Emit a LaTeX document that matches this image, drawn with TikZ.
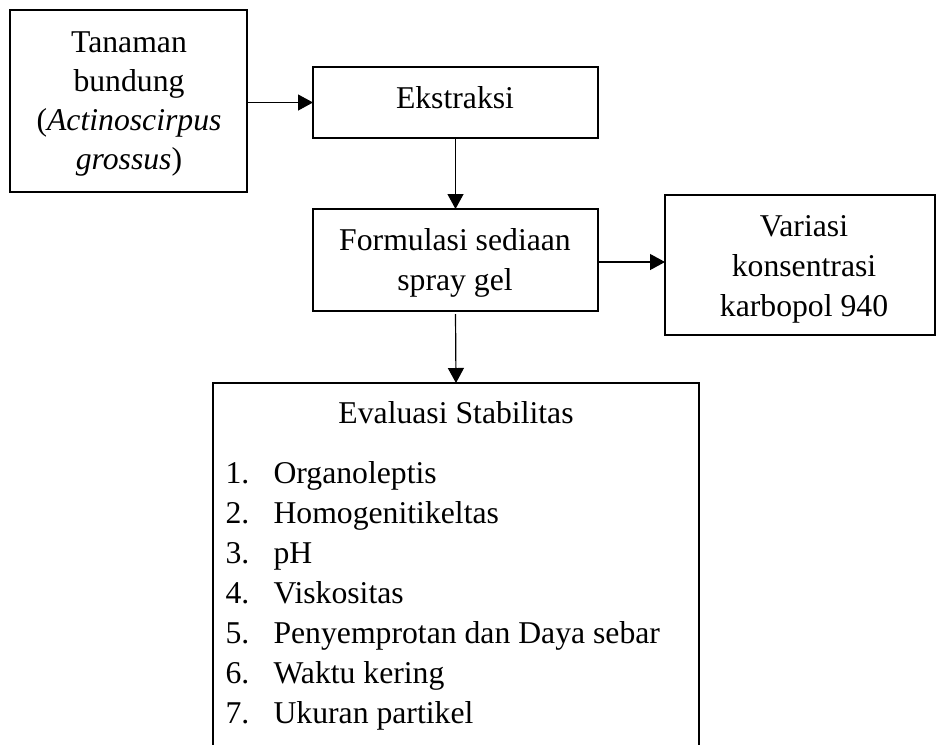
\documentclass[tikz,border=0pt]{standalone}
\usepackage{fontspec}
\setmainfont{Liberation Serif}
\usetikzlibrary{arrows.meta}
\newcommand\pxu{0.3785pt}
\begin{document}
\begin{tikzpicture}[x=0.3785pt,y=-0.3785pt,
  box/.style={draw=black,line width=2.6*\pxu,inner sep=0pt,outer sep=0pt},
  txt/.style={anchor=base,inner sep=0pt,font=\fontsize{12}{15}\selectfont},
  ltxt/.style={anchor=base west,inner sep=0pt,font=\fontsize{12}{15}\selectfont},
  conn/.style={line width=1.2*\pxu,-{Triangle[length=15*\pxu,width=16*\pxu]}}]
\useasboundingbox (0,0) rectangle (937,744);
\clip (0,0) rectangle (937,744);
% boxes
\node[box,minimum width=237*\pxu,minimum height=182*\pxu] (plant) at (128.5,101) {};
\node[box,minimum width=285*\pxu,minimum height=71*\pxu] (ekstr) at (455.5,102.5) {};
\node[box,minimum width=285*\pxu,minimum height=102*\pxu] (form) at (455.5,260) {};
\node[box,minimum width=270*\pxu,minimum height=140*\pxu] (var) at (800,265) {};
\node[box,minimum width=486*\pxu,minimum height=417*\pxu] (eval) at (456,591.5) {};
% texts
\node[txt] (p1) at (129,52) {Tanaman};
\node[txt] (p2) at (129,91) {bundung};
\node[txt] (p3) at (129,130) {(\textit{Actinoscirpus}};
\node[txt] (p4) at (129,169) {\textit{grossus})};
\node[txt] (e1) at (455,108) {Ekstraksi};
\node[txt] (f1) at (455,250) {Formulasi sediaan};
\node[txt] (f2) at (455,290) {spray gel};
\node[txt] (v1) at (804,236) {Variasi};
\node[txt] (v2) at (804,276) {konsentrasi};
\node[txt] (v3) at (804,316) {karbopol 940};
\node[txt] (t0) at (456,423) {Evaluasi Stabilitas};
\node[ltxt] (n1) at (225,483) {1.};
\node[ltxt] (i1) at (273,483) {Organoleptis};
\node[ltxt] (n2) at (225,523) {2.};
\node[ltxt] (i2) at (273,523) {Homogenitikeltas};
\node[ltxt] (n3) at (225,563) {3.};
\node[ltxt] (i3) at (273,563) {pH};
\node[ltxt] (n4) at (225,603) {4.};
\node[ltxt] (i4) at (273,603) {Viskositas};
\node[ltxt] (n5) at (225,643) {5.};
\node[ltxt] (i5) at (273,643) {Penyemprotan dan Daya sebar};
\node[ltxt] (n6) at (225,683) {6.};
\node[ltxt] (i6) at (273,683) {Waktu kering};
\node[ltxt] (n7) at (225,723) {7.};
\node[ltxt] (i7) at (273,723) {Ukuran partikel};
% connectors
\draw[conn] (plant.east |- ekstr.west) -- (ekstr.west);
\draw[conn] (ekstr.south) -- (form.north);
\draw[conn] ([yshift=-2*\pxu]form.east) -- ([yshift=-2*\pxu]form.east -| var.west);
\draw[conn] ([yshift=-3*\pxu]form.south) -- (eval.north);
\end{tikzpicture}
\end{document}
